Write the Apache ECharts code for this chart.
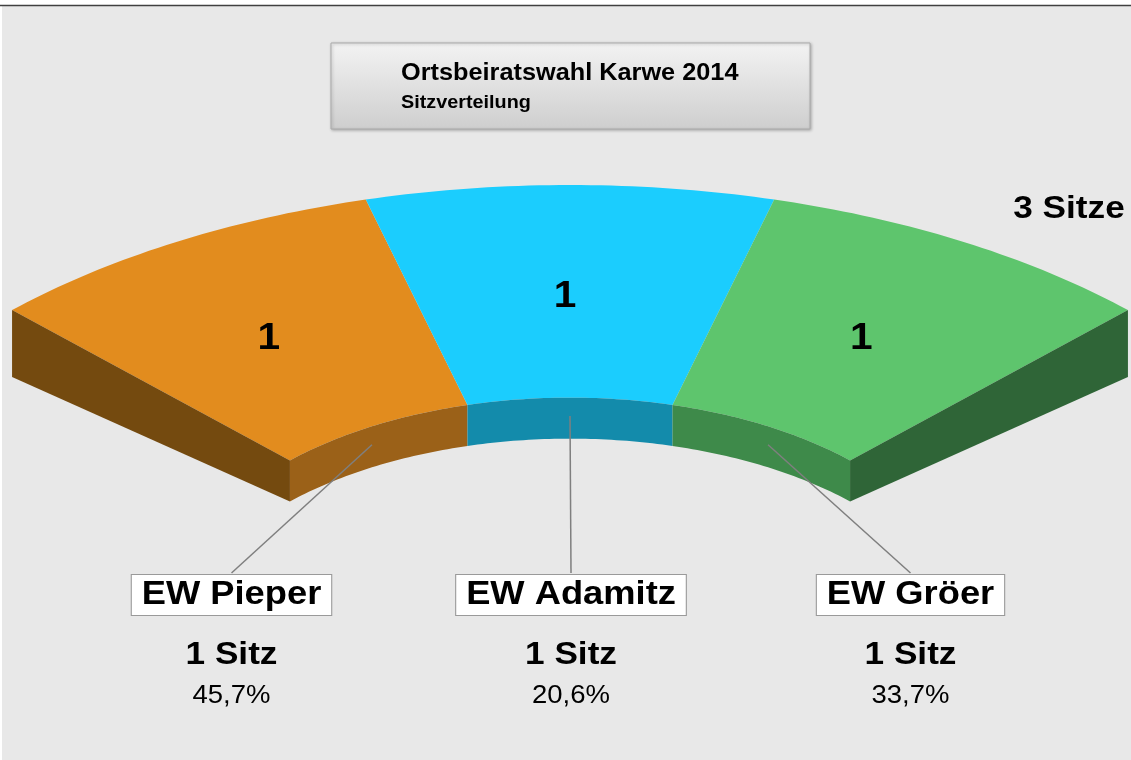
<!DOCTYPE html>
<html>
<head>
<meta charset="utf-8">
<script src="https://cdn.jsdelivr.net/npm/echarts@6/dist/echarts.min.js"></script>
<style>
  html, body { margin: 0; padding: 0; background: #e8e8e8; }
  #main { width: 1131px; height: 760px; }
</style>
</head>
<body>
<div id="main"></div>
<script>
// Daten
const parties = ['EW Pieper', 'EW Adamitz', 'EW Gröer'];
const seats = [1, 1, 1];
const votePct = [45.7, 20.6, 33.7];

// Farben (Oberseite, Innenkante, Stirnseite)
const topColors = ['#e28c1e', '#1bcdfe', '#5ec56d'];
const innerColors = ['#9b6118', '#138bab', '#3e8a4a'];
const endColors = ['#744a0f', '#136f88', '#2f6537'];

const FONT = "'Liberation Sans', Arial, sans-serif";
const SX = 1.1; // Schrift leicht gestreckt wie im Original

// Geometrie des Sitzbogens
const cx = 570, cy = 612;
const Rx = 789, Ry = 427;      // äußerer Radius (Ellipse)
const rIn = 0.502;             // innerer Radius relativ
const span = 90;               // Gesamtwinkel in Grad
const depthIn = 41, depthOut = 67;
const labelY = 595, labelGap = 339.5, labelCx = 571;

const totalSeats = seats.reduce((a, b) => a + b, 0);

function depth(r) {
  return depthIn + (depthOut - depthIn) * (r - rIn) / (1 - rIn);
}
function pt(r, phi, drop) {
  const a = phi * Math.PI / 180;
  return [cx + Rx * r * Math.sin(a), cy - Ry * r * Math.cos(a) + (drop || 0)];
}
function arc(r, a0, a1, drop) {
  const pts = [];
  const n = 40;
  for (let k = 0; k <= n; k++) {
    pts.push(pt(r, a0 + (a1 - a0) * k / n, drop));
  }
  return pts;
}

function renderItem(params, api) {
  const i = params.dataIndex;
  const s = api.value(0);
  const pct = api.value(1);
  let before = 0;
  for (let k = 0; k < i; k++) before += seats[k];
  const a0 = -span / 2 + span * before / totalSeats;
  const a1 = a0 + span * s / totalSeats;
  const mid = (a0 + a1) / 2;

  const children = [];
  // Oberseite
  children.push({
    type: 'polygon',
    shape: { points: arc(1, a0, a1).concat(arc(rIn, a1, a0)) },
    style: { fill: topColors[i] }
  });
  // Innenkante
  children.push({
    type: 'polygon',
    shape: { points: arc(rIn, a0, a1).concat(arc(rIn, a1, a0, depthIn)) },
    style: { fill: innerColors[i] }
  });
  // Stirnseiten
  if (i === 0) {
    children.push({
      type: 'polygon',
      shape: { points: [pt(1, a0), pt(rIn, a0), pt(rIn, a0, depthIn), pt(1, a0, depthOut)] },
      style: { fill: endColors[i] }
    });
  }
  if (i === seats.length - 1) {
    children.push({
      type: 'polygon',
      shape: { points: [pt(1, a1), pt(rIn, a1), pt(rIn, a1, depthIn), pt(1, a1, depthOut)] },
      style: { fill: endColors[i] }
    });
  }
  // Sitzzahl auf dem Segment
  const c = pt((1 + rIn) / 2, mid);
  children.push({
    type: 'text', x: c[0] - 5, y: c[1] + 5, scaleX: SX,
    style: {
      text: String(s), fontFamily: FONT, fontWeight: 'bold', fontSize: 37,
      fill: '#000', align: 'center', verticalAlign: 'middle',
      textShadowColor: 'rgba(255,255,255,0.8)', textShadowOffsetX: 1, textShadowOffsetY: 1, textShadowBlur: 0
    }
  });
  // Führungslinie
  const lx = labelCx + (i - (seats.length - 1) / 2) * labelGap;
  const p0 = pt(rIn, mid, depthIn * 0.45);
  children.push({
    type: 'line',
    shape: { x1: p0[0], y1: p0[1], x2: lx, y2: labelY - 22 },
    style: { stroke: '#7f7f7f', lineWidth: 1.5 }
  });
  // Name im Kasten
  children.push({
    type: 'text', x: lx, y: labelY, scaleX: SX,
    style: {
      text: parties[i], fontFamily: FONT, fontWeight: 'bold', fontSize: 33, lineHeight: 34,
      fill: '#000', align: 'center', verticalAlign: 'middle',
      backgroundColor: '#ffffff', borderColor: '#9a9a9a', borderWidth: 1, padding: [3, 9, 3, 9]
    }
  });
  children.push({
    type: 'text', x: lx, y: 655, scaleX: SX,
    style: {
      text: s + (s === 1 ? ' Sitz' : ' Sitze'), fontFamily: FONT, fontWeight: 'bold', fontSize: 32,
      fill: '#000', align: 'center', verticalAlign: 'middle'
    }
  });
  children.push({
    type: 'text', x: lx, y: 696, scaleX: SX,
    style: {
      text: pct.toFixed(1).replace('.', ',') + '%', fontFamily: FONT, fontSize: 25,
      fill: '#000', align: 'center', verticalAlign: 'middle'
    }
  });
  return { type: 'group', children: children };
}

var myChart = echarts.init(document.getElementById('main'), null, { renderer: 'canvas' });
myChart.setOption({
  backgroundColor: '#e8e8e8',
  animation: false,
  graphic: [
    { type: 'rect', shape: { x: 0, y: 0, width: 1131, height: 5 }, style: { fill: '#ffffff' } },
    { type: 'rect', shape: { x: 0, y: 0, width: 2, height: 760 }, style: { fill: '#ffffff' } },
    { type: 'line', shape: { x1: 0, y1: 5.5, x2: 1131, y2: 5.5 }, style: { stroke: '#404040', lineWidth: 1.5 } },
    {
      type: 'rect', shape: { x: 331, y: 43, width: 479, height: 86 },
      style: {
        fill: { type: 'linear', x: 0, y: 0, x2: 0, y2: 1,
          colorStops: [{ offset: 0, color: '#f3f3f3' }, { offset: 1, color: '#cecece' }] },
        stroke: '#aaaaaa', lineWidth: 1,
        shadowBlur: 3, shadowColor: 'rgba(0,0,0,0.25)', shadowOffsetX: 1, shadowOffsetY: 1
      }
    },
    {
      type: 'text', x: 401, y: 74, scaleX: SX,
      style: { text: 'Ortsbeiratswahl Karwe 2014', fontFamily: FONT, fontWeight: 'bold', fontSize: 23,
        fill: '#000', align: 'left', verticalAlign: 'middle' }
    },
    {
      type: 'text', x: 401, y: 103, scaleX: SX,
      style: { text: 'Sitzverteilung', fontFamily: FONT, fontWeight: 'bold', fontSize: 18,
        fill: '#000', align: 'left', verticalAlign: 'middle' }
    },
    {
      type: 'text', x: 1069, y: 209, scaleX: SX,
      style: { text: totalSeats + ' Sitze', fontFamily: FONT, fontWeight: 'bold', fontSize: 32,
        fill: '#000', align: 'center', verticalAlign: 'middle' }
    }
  ],
  series: [{
    type: 'custom',
    coordinateSystem: 'none',
    renderItem: renderItem,
    data: seats.map((s, i) => [s, votePct[i]])
  }]
});
</script>
</body>
</html>
